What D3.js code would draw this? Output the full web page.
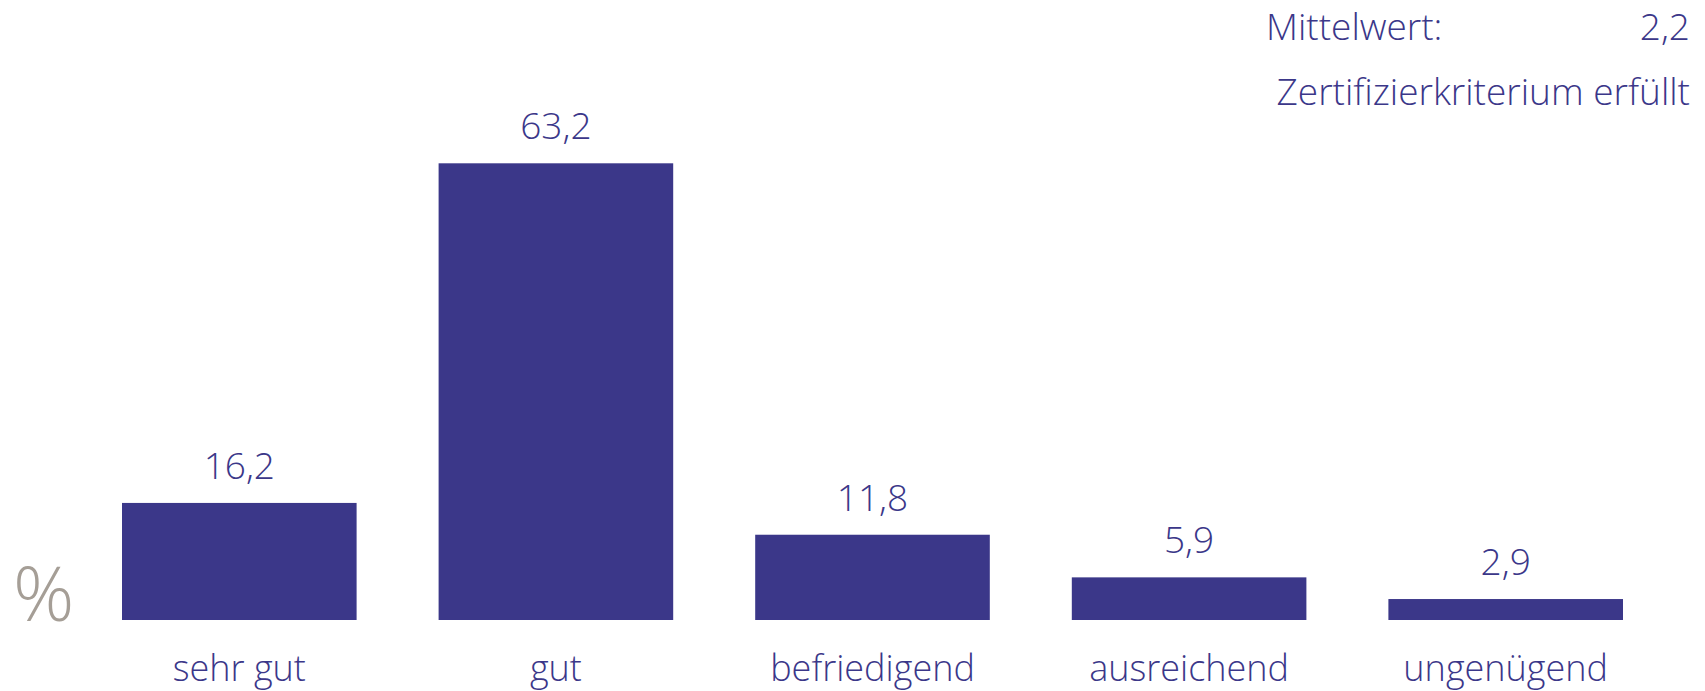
<!DOCTYPE html>
<html><head><meta charset="utf-8">
<script src="https://cdn.jsdelivr.net/npm/d3@7"></script>
<style>
html,body{margin:0;padding:0;background:#fff;}
svg{display:block;font-family:"Open Sans","Noto Sans",sans-serif;}
</style></head>
<body>
<svg id="chart" width="1705" height="691"></svg>
<script>
const categories = ["sehr gut","gut","befriedigend","ausreichend","ungenügend"];
const values = [16.2, 63.2, 11.8, 5.9, 2.9];
const valueLabels = ["16,2","63,2","11,8","5,9","2,9"];
const meanLabel = "Mittelwert:";
const meanValue = "2,2";
const criterionText = "Zertifizierkriterium erfüllt";
const unitLabel = "%";

const color = "#3b3789";
const svg = d3.select("#chart");

const x = d3.scaleBand().domain(categories).range([122, 1623]).paddingInner(0.259).paddingOuter(0);
const y = d3.scaleLinear().domain([0, 63.2]).range([620, 163.3]);

svg.selectAll("rect.bar").data(values).join("rect")
  .attr("class","bar")
  .attr("x",(d,i)=>x(categories[i]))
  .attr("width",x.bandwidth())
  .attr("y",d=>y(d))
  .attr("height",d=>y(0)-y(d))
  .attr("fill",color);

svg.selectAll("text.val").data(values).join("text")
  .attr("class","val")
  .attr("x",(d,i)=>x(categories[i])+x.bandwidth()/2)
  .attr("y",d=>y(d)-24)
  .attr("text-anchor","middle")
  .attr("font-size",37)
  .attr("font-weight",300)
  .attr("fill",color)
  .text((d,i)=>valueLabels[i]);

const xAxis = d3.axisBottom(x).tickSize(0).tickPadding(0);
const gx = svg.append("g").attr("transform","translate(0,620)").call(xAxis);
gx.select(".domain").remove();
gx.selectAll(".tick text")
  .attr("font-family","\"Open Sans\",\"Noto Sans\",sans-serif")
  .attr("font-size",36)
  .attr("font-weight",300)
  .attr("fill",color)
  .attr("dy",null)
  .attr("y",61);

svg.append("text").attr("x",13).attr("y",621)
  .attr("font-size",76).attr("font-weight",300).attr("fill","#a59e96").text(unitLabel);

svg.append("text").attr("x",1266).attr("y",40)
  .attr("font-size",37).attr("font-weight",300).attr("fill",color).text(meanLabel);
svg.append("text").attr("x",1690).attr("y",40).attr("text-anchor","end")
  .attr("font-size",37).attr("font-weight",300).attr("fill",color).text(meanValue);
svg.append("text").attr("x",1690).attr("y",105).attr("text-anchor","end")
  .attr("font-size",37).attr("font-weight",300).attr("fill",color).text(criterionText);
</script>
</body></html>
